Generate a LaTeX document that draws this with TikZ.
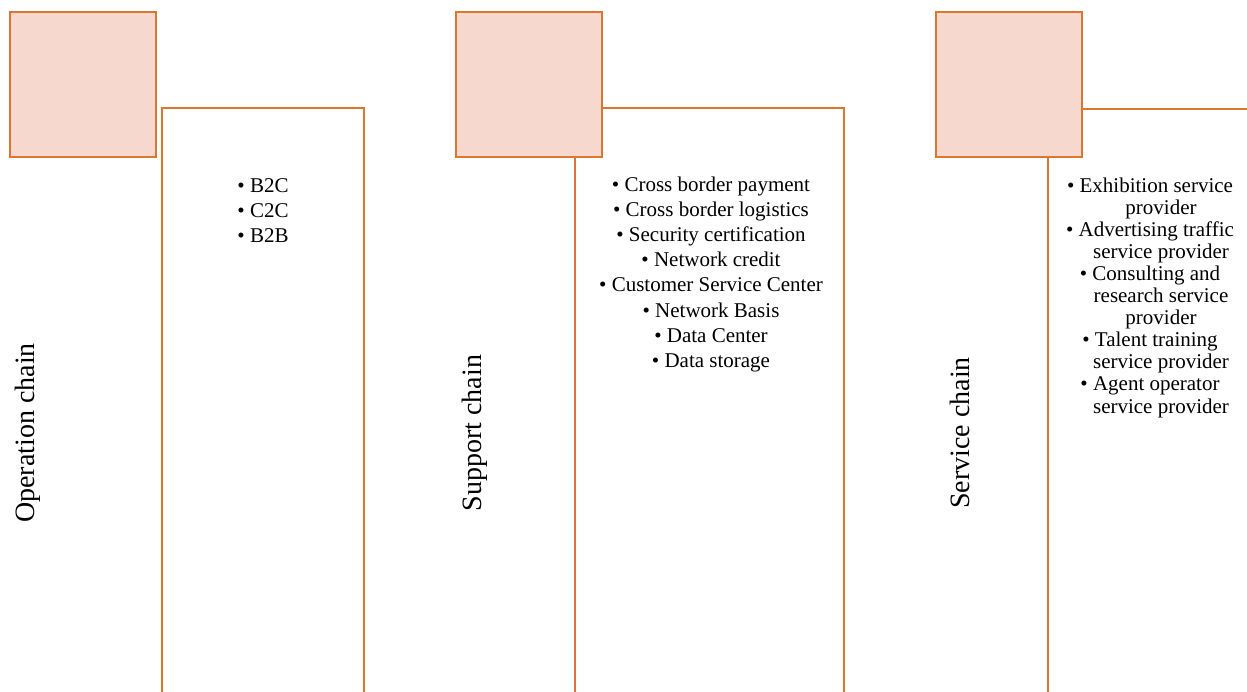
\documentclass[tikz,border=0pt]{standalone}
\usepackage{fontspec}
\setmainfont{Liberation Serif}
\definecolor{chainorange}{HTML}{DD7631}
\definecolor{chainfill}{HTML}{F7D8CE}
\begin{document}
\begin{tikzpicture}[x=1pt,y=-1pt,
  headsq/.style={draw=chainorange, fill=chainfill, line width=2.6pt,
    minimum width=146pt, minimum height=145pt, inner sep=0pt, outer sep=0pt},
  colbox/.style={draw=chainorange, line width=2pt, minimum height=620pt,
    inner sep=0pt, outer sep=0pt, anchor=north west},
  chainlabel/.style={rotate=90, anchor=base, inner sep=0pt,
    font=\fontsize{28}{33}\selectfont},
  itemlist/.style={anchor=base, inner sep=0pt,
    font=\fontsize{21}{25.2}\selectfont},
  itemlisttight/.style={anchor=base, inner sep=0pt,
    font=\fontsize{21}{22.1}\selectfont}]
\useasboundingbox (0,0) rectangle (1247,691);
\clip (0,0) rectangle (1247,691);
% tall boxes
\node[colbox, minimum width=202pt] (box1) at (162,108) {};
\node[colbox, minimum width=269pt] (box2) at (575,108) {};
\node[colbox, minimum width=272pt] (box3) at (1048,109) {};
% head squares
\node[headsq] (sq1) at (83,84.5) {};
\node[headsq] (sq2) at (529,84.5) {};
\node[headsq] (sq3) at (1009,84.5) {};
% vertical labels
\node[chainlabel] (lab1) at (34,433) {Operation chain};
\node[chainlabel] (lab2) at (481,433) {Support chain};
\node[chainlabel] (lab3) at (969,433) {Service chain};
% item lists
\node[itemlist] (list1) at (263,192) {\begin{tabular}[t]{@{}c@{}}
• B2C\\ • C2C\\ • B2B
\end{tabular}};
\node[itemlist] (list2) at (711,191) {\begin{tabular}[t]{@{}c@{}}
• Cross border payment\\
• Cross border logistics\\
• Security certification\\
• Network credit\\
• Customer Service Center\\
• Network Basis\\
• Data Center\\
• Data storage
\end{tabular}};
\node[itemlisttight] (list3) at (1150,192) {\begin{tabular}[t]{@{}c@{}}
• Exhibition service\\
\hspace*{22pt}provider\\
• Advertising traffic\\
\hspace*{22pt}service provider\\
• Consulting and\\
\hspace*{22pt}research service\\
\hspace*{22pt}provider\\
• Talent training\\
\hspace*{22pt}service provider\\
• Agent operator\\
\hspace*{22pt}service provider
\end{tabular}};
\end{tikzpicture}
\end{document}
